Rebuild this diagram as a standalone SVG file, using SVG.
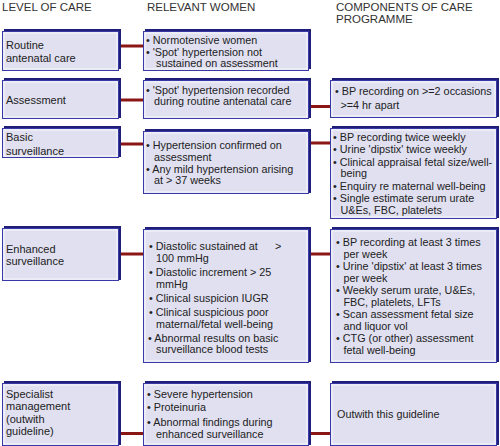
<svg xmlns="http://www.w3.org/2000/svg" width="500" height="446" viewBox="0 0 500 446">
<style>
.hd{font-family:"Liberation Sans",Arial,sans-serif;font-size:11.5px;fill:#333}
.t{font-family:"Liberation Sans",Arial,sans-serif;font-size:10.8px;fill:#222}
.lv{font-family:"Liberation Sans",Arial,sans-serif;font-size:11px;fill:#222}
.sh{fill:#1f1f7a}
.bx{fill:#e0e0f1;stroke:#3838a6;stroke-width:1}
.hi{fill:none;stroke:#ffffff;stroke-width:0.8}
.c{stroke:#8a1616;stroke-width:3;fill:none}
</style>
<rect x="0" y="0" width="500" height="446" fill="#ffffff"/>
<text class="hd" x="2" y="11">LEVEL OF CARE</text>
<text class="hd" x="147" y="11">RELEVANT WOMEN</text>
<text class="hd" x="336" y="11">COMPONENTS OF CARE</text>
<text class="hd" x="336" y="23">PROGRAMME</text>

<g id="connectors">
<line class="c" x1="120" y1="46" x2="144" y2="46"/>
<line class="c" x1="120" y1="100" x2="144" y2="100"/>
<line class="c" x1="310" y1="106.5" x2="331" y2="106.5"/>
<line class="c" x1="120" y1="144" x2="144" y2="144"/>
<line class="c" x1="310" y1="143" x2="331" y2="143"/>
<line class="c" x1="120" y1="254" x2="144" y2="254"/>
<line class="c" x1="310" y1="254" x2="331" y2="254"/>
<line class="c" x1="120" y1="433.5" x2="144" y2="433.5"/>
<line class="c" x1="310" y1="433.5" x2="331" y2="433.5"/>
</g>

<g id="routine">
<rect class="sh" x="4" y="29" width="117" height="40"/>
<rect class="bx" x="2.5" y="31.5" width="116" height="39"/>
<rect class="hi" x="4" y="33" width="113" height="36"/>
<text class="lv" x="6" y="49">Routine</text>
<text class="lv" x="6" y="62">antenatal care</text>
</g>
<g id="routine-women">
<rect class="sh" x="145" y="29" width="166" height="40"/>
<rect class="bx" x="143.5" y="31.5" width="165" height="39"/>
<rect class="hi" x="145" y="33" width="162" height="36"/>
<text class="t" x="146" y="44">• Normotensive women</text>
<text class="t" x="146" y="55.5">• 'Spot' hypertension not</text>
<text class="t" x="156" y="67">sustained on assessment</text>
</g>

<g id="assessment">
<rect class="sh" x="4" y="78" width="117" height="40"/>
<rect class="bx" x="2.5" y="80.5" width="116" height="38"/>
<rect class="hi" x="4" y="82" width="113" height="35"/>
<text class="lv" x="6" y="104">Assessment</text>
</g>
<g id="assessment-women">
<rect class="sh" x="145" y="78" width="166" height="40"/>
<rect class="bx" x="143.5" y="80.5" width="165" height="38"/>
<rect class="hi" x="145" y="82" width="162" height="35"/>
<text class="t" x="146" y="94">• 'Spot' hypertension recorded</text>
<text class="t" x="154" y="105">during routine antenatal care</text>
</g>
<g id="assessment-care">
<rect class="sh" x="332" y="78" width="167" height="39"/>
<rect class="bx" x="330.5" y="80.5" width="166" height="37"/>
<rect class="hi" x="332" y="82" width="163" height="34"/>
<text class="t" x="335" y="94.5">• BP recording on &gt;=2 occasions</text>
<text class="t" x="340.5" y="109">&gt;=4 hr apart</text>
</g>

<g id="basic">
<rect class="sh" x="4" y="126" width="117" height="31"/>
<rect class="bx" x="2.5" y="128.5" width="116" height="29"/>
<rect class="hi" x="4" y="130" width="113" height="26"/>
<text class="lv" x="6" y="141">Basic</text>
<text class="lv" x="6" y="154.5">surveillance</text>
</g>
<g id="basic-women">
<rect class="sh" x="145" y="129" width="166" height="64"/>
<rect class="bx" x="143.5" y="131.5" width="165" height="62"/>
<rect class="hi" x="145" y="133" width="162" height="59"/>
<text class="t" x="146" y="149">• Hypertension confirmed on</text>
<text class="t" x="154" y="160.5">assessment</text>
<text class="t" x="146" y="172.5">• Any mild hypertension arising</text>
<text class="t" x="154" y="184">at &gt; 37 weeks</text>
</g>
<g id="basic-care">
<rect class="sh" x="332" y="126" width="167" height="92"/>
<rect class="bx" x="330.5" y="128.5" width="166" height="90"/>
<rect class="hi" x="332" y="130" width="163" height="87"/>
<text class="t" x="333" y="140.5">• BP recording twice weekly</text>
<text class="t" x="333" y="153">• Urine 'dipstix' twice weekly</text>
<text class="t" x="333" y="165.5">• Clinical appraisal fetal size/well-</text>
<text class="t" x="340.5" y="177">being</text>
<text class="t" x="333" y="189.5">• Enquiry re maternal well-being</text>
<text class="t" x="333" y="202">• Single estimate serum urate</text>
<text class="t" x="340.5" y="213.5">U&amp;Es, FBC, platelets</text>
</g>

<g id="enhanced">
<rect class="sh" x="4" y="226" width="117" height="54"/>
<rect class="bx" x="2.5" y="228.5" width="116" height="52"/>
<rect class="hi" x="4" y="230" width="113" height="49"/>
<text class="lv" x="6" y="253">Enhanced</text>
<text class="lv" x="6" y="265">surveillance</text>
</g>
<g id="enhanced-women">
<rect class="sh" x="145" y="227" width="166" height="135"/>
<rect class="bx" x="143.5" y="229.5" width="165" height="133"/>
<rect class="hi" x="145" y="231" width="162" height="130"/>
<text class="t" x="149" y="250">• Diastolic sustained at<tspan x="275">&gt;</tspan></text>
<text class="t" x="156" y="261.5">100 mmHg</text>
<text class="t" x="149" y="276">• Diastolic increment &gt; 25</text>
<text class="t" x="156" y="287.5">mmHg</text>
<text class="t" x="149" y="302">• Clinical suspicion IUGR</text>
<text class="t" x="149" y="316">• Clinical suspicious poor</text>
<text class="t" x="156" y="327.5">maternal/fetal well-being</text>
<text class="t" x="148" y="341.5">• Abnormal results on basic</text>
<text class="t" x="156" y="353">surveillance blood tests</text>
</g>
<g id="enhanced-care">
<rect class="sh" x="332" y="227" width="167" height="135"/>
<rect class="bx" x="330.5" y="229.5" width="166" height="133"/>
<rect class="hi" x="332" y="231" width="163" height="130"/>
<text class="t" x="336" y="246">• BP recording at least 3 times</text>
<text class="t" x="343.5" y="257.5">per week</text>
<text class="t" x="336" y="270">• Urine 'dipstix' at least 3 times</text>
<text class="t" x="343.5" y="281.5">per week</text>
<text class="t" x="336" y="294">• Weekly serum urate, U&amp;Es,</text>
<text class="t" x="343.5" y="305.5">FBC, platelets, LFTs</text>
<text class="t" x="336" y="318">• Scan assessment fetal size</text>
<text class="t" x="343.5" y="329.5">and liquor vol</text>
<text class="t" x="336" y="342">• CTG (or other) assessment</text>
<text class="t" x="343.5" y="353.5">fetal well-being</text>
</g>

<g id="specialist">
<rect class="sh" x="4" y="381" width="117" height="64"/>
<rect class="bx" x="2.5" y="383.5" width="116" height="62"/>
<rect class="hi" x="4" y="385" width="113" height="59"/>
<text class="lv" x="6" y="397.5">Specialist</text>
<text class="lv" x="6" y="410">management</text>
<text class="lv" x="6" y="422.5">(outwith</text>
<text class="lv" x="6" y="435">guideline)</text>
</g>
<g id="specialist-women">
<rect class="sh" x="145" y="381" width="166" height="64"/>
<rect class="bx" x="143.5" y="383.5" width="165" height="62"/>
<rect class="hi" x="145" y="385" width="162" height="59"/>
<text class="t" x="147" y="397.5">• Severe hypertension</text>
<text class="t" x="147" y="411">• Proteinuria</text>
<text class="t" x="147" y="425.5">• Abnormal findings during</text>
<text class="t" x="156" y="437.5">enhanced surveillance</text>
</g>
<g id="specialist-care">
<rect class="sh" x="332" y="381" width="167" height="64"/>
<rect class="bx" x="330.5" y="383.5" width="166" height="62"/>
<rect class="hi" x="332" y="385" width="163" height="59"/>
<text class="t" x="337" y="417.5">Outwith this guideline</text>
</g>
</svg>
